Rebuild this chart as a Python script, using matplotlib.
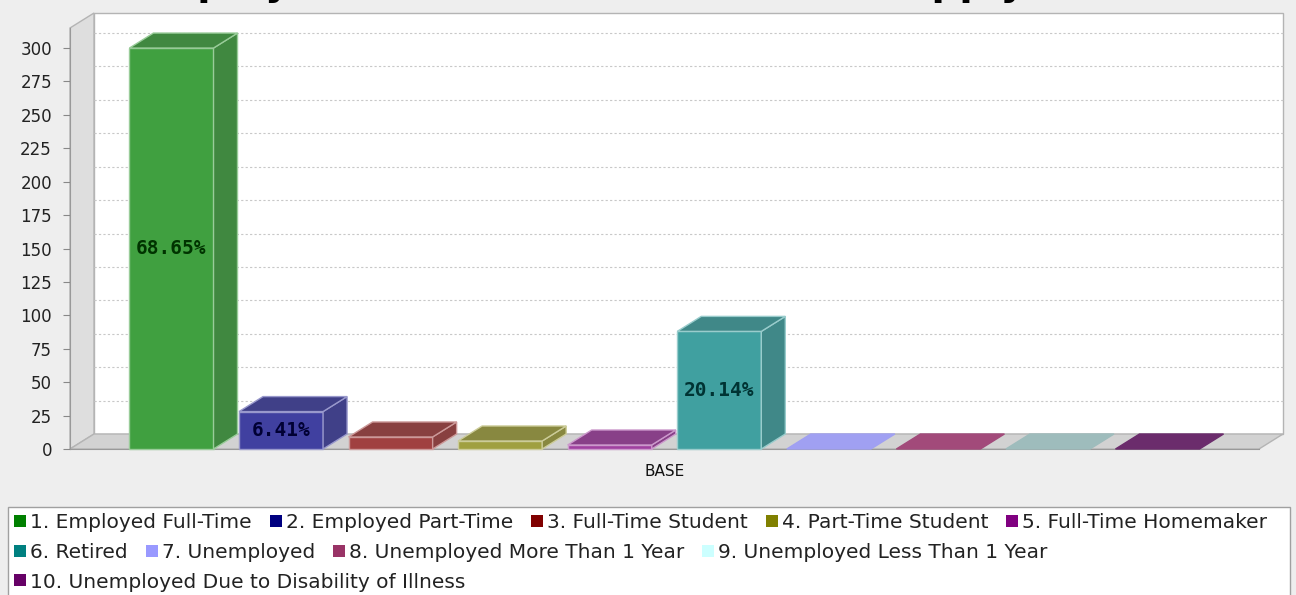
import numpy as np
import matplotlib.pyplot as plt
import matplotlib.colors as mcolors
from matplotlib.patches import Polygon, Rectangle

W, H = 1296, 595

# chart data
title = "Employment Status (Check all that apply)"
category = "BASE"
series_names = [
    "1. Employed Full-Time", "2. Employed Part-Time", "3. Full-Time Student",
    "4. Part-Time Student", "5. Full-Time Homemaker", "6. Retired",
    "7. Unemployed", "8. Unemployed More Than 1 Year",
    "9. Unemployed Less Than 1 Year", "10. Unemployed Due to Disability of Illness",
]
counts = [300, 28, 9, 6, 3, 88, 0, 0, 0, 0]
pct_labels = ["68.65%", "6.41%", "", "", "", "20.14%", "", "", "", ""]
y_ticks = list(range(0, 301, 25))

# style
series_colors = ["#008000", "#000080", "#800000", "#808000", "#800080",
                 "#008080", "#9999ff", "#993366", "#ccffff", "#660066"]
flat_colors = ["#3f883f", "#404088", "#884040", "#888840", "#884088",
               "#408888", "#a0a0f2", "#a24a7a", "#9ebcbc", "#6b2c6c"]
floor_color = "#d2d2d2"
wall_edge = "#b4b4b4"


def blend(c, bg, a):
    c = np.array(mcolors.to_rgb(c))
    bg = np.array(mcolors.to_rgb(bg))
    return tuple(a * c + (1 - a) * bg)


def darker(c, f):
    return tuple(np.array(mcolors.to_rgb(c)) * f)


fig = plt.figure(figsize=(W / 100, H / 100), dpi=100, facecolor="#eeeeee")

# title sits mostly above the top edge of the image (cropped in the original)
fig.text(130 / W, 1 + 5 / H, title, fontsize=28, fontweight="bold",
         ha="left", va="baseline", color="black")

ymax = 315
ax = fig.add_axes([70 / W, 1 - 449 / H, 1189 / W, 421 / H])
ax.set_xlim(0, 1)
ax.set_ylim(0, ymax)
ax.patch.set_visible(False)
for s in ["top", "right"]:
    ax.spines[s].set_visible(False)
ax.spines["left"].set_color("#999999")
ax.spines["bottom"].set_color("#999999")

# 3D depth in data units
DX = 24 / 1189
DY = 15 * ymax / 421

# back wall, left wall, floor
ax.add_patch(Rectangle((DX, DY), 1, ymax, facecolor="white", edgecolor=wall_edge,
                       lw=1, clip_on=False, zorder=0))
ax.add_patch(Polygon([(0, 0), (DX, DY), (DX, ymax + DY), (0, ymax)],
                     facecolor="#dedede", edgecolor=wall_edge, lw=1,
                     clip_on=False, zorder=0.5))
ax.add_patch(Polygon([(0, 0), (1, 0), (1 + DX, DY), (DX, DY)],
                     facecolor=floor_color, edgecolor=wall_edge, lw=1,
                     clip_on=False, zorder=0.5))

# gridlines on the back wall
for v in y_ticks[1:]:
    ax.plot([DX, 1 + DX], [v + DY, v + DY], color="#c8c8c8", lw=0.8,
            ls=(0, (2, 2)), clip_on=False, zorder=1)

# bars
n = len(counts)
lower = 0.05
bar_w = 0.0707
gap = (1 - 2 * lower - n * bar_w) / (n - 1)
for i, (v, c, lab) in enumerate(zip(counts, series_colors, pct_labels)):
    x0 = lower + i * (bar_w + gap)
    front = blend(c, "white", 0.75)
    shade = blend(darker(c, 0.75), "white", 0.75)
    edge = blend(c, "white", 0.4)
    if v > 0:
        ax.add_patch(Rectangle((x0, 0), bar_w, v, facecolor=front, edgecolor=edge,
                               lw=1, zorder=3, clip_on=False))
        ax.add_patch(Polygon([(x0 + bar_w, 0), (x0 + bar_w + DX, DY),
                              (x0 + bar_w + DX, v + DY), (x0 + bar_w, v)],
                             facecolor=shade, edgecolor=edge, lw=1, zorder=3,
                             clip_on=False))
        top_c = shade
    else:
        top_c = flat_colors[i]
    ax.add_patch(Polygon([(x0, v), (x0 + DX, v + DY), (x0 + bar_w + DX, v + DY),
                          (x0 + bar_w, v)],
                         facecolor=top_c, edgecolor=edge if v > 0 else top_c,
                         lw=1, zorder=3, clip_on=False))
    if lab:
        ax.text(x0 + bar_w / 2, v / 2, lab, ha="center", va="center",
                fontsize=14, fontweight="bold", family="DejaVu Sans Mono",
                color=darker(c, 0.4), zorder=4)

ax.set_yticks(y_ticks)
ax.tick_params(axis="y", direction="out", length=5, width=0.8, color="#888888",
               pad=8, labelsize=12, labelcolor="#222222")
ax.set_xticks([0.5])
ax.set_xticklabels([category])
ax.tick_params(axis="x", length=0, pad=11, labelsize=11, labelcolor="#111111")

# legend box with flow layout
fig.patches.append(Rectangle((8 / W, 1 - 605 / H), (1290 - 8) / W, (605 - 507) / H,
                             transform=fig.transFigure, facecolor="white",
                             edgecolor="#a0a0a0", lw=1))
renderer = fig.canvas.get_renderer()
x, y = 14, 521
row_h = 29.5
for name, c in zip(series_names, series_colors):
    t = fig.text(0, 0, name, fontsize=14.5, ha="left", va="center_baseline",
                 color="#222222")
    wpx = t.get_window_extent(renderer).width
    item_w = 16 + wpx
    if x + item_w > 1288:
        x = 14
        y += row_h
    fig.patches.append(Rectangle((x / W, 1 - (y + 6) / H), 12 / W, 12 / H,
                                 transform=fig.transFigure, facecolor=c,
                                 edgecolor="none"))
    t.set_position(((x + 16) / W, 1 - y / H))
    x += item_w + 18

fig.savefig("out.png", dpi=100, facecolor=fig.get_facecolor())
